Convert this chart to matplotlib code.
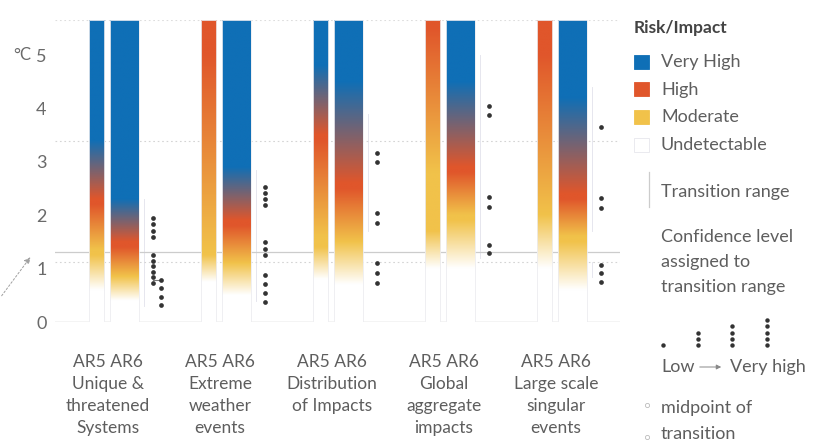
"""Burning-embers chart: AR5 vs AR6 risk levels for five reasons for concern."""

import matplotlib

matplotlib.use("Agg")
import matplotlib.pyplot as plt
import numpy as np
from matplotlib.patches import Rectangle

plt.rcParams["font.family"] = ["Lato", "DejaVu Sans"]

# --- data -------------------------------------------------------------------
groups = [
    "Unique &\nthreatened\nSystems",
    "Extreme\nweather\nevents",
    "Distribution\nof Impacts",
    "Global\naggregate\nimpacts",
    "Large scale\nsingular\nevents",
]
# (start, end) in degC of each transition: undetectable->moderate, moderate->high, high->very high
ar5_transitions = [
    [(0.6, 1.25), (1.35, 2.2), (2.3, 3.4)],
    [(0.75, 1.25), (1.3, 5.0)],
    [(0.8, 1.4), (1.6, 3.4), (3.5, 4.8)],
    [(1.0, 1.7), (2.8, 5.5)],
    [(1.0, 2.0), (2.0, 5.0)],
]
ar6_transitions = [
    [(0.4, 0.85), (0.85, 1.4), (1.5, 2.3)],
    [(0.5, 1.1), (1.1, 1.8), (1.9, 2.9)],
    [(0.7, 1.5), (1.5, 2.5), (2.6, 4.5)],
    [(1.0, 1.9), (2.0, 2.8), (2.9, 4.5)],
    [(0.6, 1.5), (1.6, 2.3), (2.4, 4.2)],
]
# confidence dots: (column, lowest dot, highest dot, number of dots)
confidence_dots = [
    [(0, 1.59, 1.95, 4), (0, 0.74, 1.25, 6), (1, 0.32, 0.79, 4)],
    [(0, 2.19, 2.53, 4), (0, 1.25, 1.50, 3), (0, 0.37, 0.88, 4)],
    [(0, 3.00, 3.16, 2), (0, 1.85, 2.04, 2), (0, 0.73, 1.10, 3)],
    [(0, 3.88, 4.04, 2), (0, 2.15, 2.34, 2), (0, 1.29, 1.44, 2)],
    [(0, 3.65, 3.65, 1), (0, 2.13, 2.32, 2), (0, 0.75, 1.07, 3)],
]
transition_ranges = [
    [(0.3, 2.3)],
    [(0.4, 2.85)],
    [(1.7, 3.9)],
    [(1.2, 5.0)],
    [(1.7, 4.4), (0.85, 1.13)],
]
y_ticks = [0, 1, 2, 3, 4, 5]
current_warming = 1.31
ref_lines = [1.12, 3.39]
y_top = 5.66

level_names = ["Very High", "High", "Moderate", "Undetectable"]
level_colors = ["#ffffff", "#f1c24a", "#e0562b", "#0f6fb6"]  # undetectable -> very high
confidence_legend = [1, 3, 4, 5]

# --- layout -------------------------------------------------------------------
W, H = 837, 444
TEXT = "#5e5e5e"
AR5_SPAN = (0.0, 0.134)
AR6_SPAN = (0.19, 0.446)
DOT_COLS = [0.57, 0.645]
RANGE_X = 0.49


def ember_rgb(transitions, temps):
    level = np.zeros_like(temps)
    for lo, hi in transitions:
        level += np.clip((temps - lo) / (hi - lo), 0, 1)
    cols = np.array([matplotlib.colors.to_rgb(c) for c in level_colors])
    idx = np.clip(np.floor(level).astype(int), 0, len(cols) - 2)
    frac = (level - idx)[:, None]
    return cols[idx] * (1 - frac) + cols[idx + 1] * frac


fig = plt.figure(figsize=(W / 100, H / 100), dpi=100)
ax = fig.add_axes([55 / W, 1 - 322 / H, (620 - 55) / W, (322 - 20) / H])
ax.set_zorder(2)

temps = np.linspace(0, y_top, 500)
for i in range(len(groups)):
    for span, trans in ((AR5_SPAN, ar5_transitions[i]), (AR6_SPAN, ar6_transitions[i])):
        rgb = ember_rgb(trans, temps)[:, None, :]
        ax.imshow(rgb, extent=(i + span[0], i + span[1], 0, y_top), origin="lower",
                  aspect="auto", interpolation="bilinear", zorder=2)
        ax.add_patch(Rectangle((i + span[0], 0), span[1] - span[0], y_top, fill=False,
                               edgecolor="#ececf0", lw=0.6, zorder=2.5))

    for col, lo, hi, n in confidence_dots[i]:
        ys = np.linspace(lo, hi, n) if n > 1 else np.array([lo])
        ax.plot(np.full(n, i + DOT_COLS[col]), ys, "o", color="#333333", ms=3.4,
                mec="none", zorder=4)
    for lo, hi in transition_ranges[i]:
        ax.plot([i + RANGE_X, i + RANGE_X], [lo, hi], color="#e6e6ee", lw=0.7, zorder=1)

# small connector between the two dot columns of the first group
ax.plot([0 + DOT_COLS[0], 0 + DOT_COLS[1]], [0.79, 0.79], color="#777777", lw=0.8, zorder=3)

ax.axhline(current_warming, color="#cccccc", lw=0.9, zorder=1)
for ref in ref_lines:
    ax.axhline(ref, color="#d4d4d4", lw=0.8, ls=(0, (1.5, 2.5)), zorder=1)
ax.axhline(y_top, color="#dddddd", lw=0.8, ls=(0, (1.5, 2.5)), zorder=1)
ax.axhline(0, color="#c8c8c8", lw=1.0, zorder=1)

ax.set_xlim(-(89 - 55) / 112, (620 - 89) / 112)
ax.set_ylim(0, y_top)
ax.set_yticks(y_ticks)
ax.set_yticklabels([str(t) for t in y_ticks], fontsize=13, color="#6a6a6a")
ax.tick_params(axis="y", length=0, pad=6)
ax.set_xticks([])
for s in ax.spines.values():
    s.set_visible(False)
ax.patch.set_alpha(0)

# category labels under each pair of bars
for i, name in enumerate(groups):
    ax.text(i + 0.17, -0.6, "AR5 AR6\n" + name, ha="center", va="top", fontsize=12.5,
            color=TEXT, linespacing=1.45)

# --- overlay in pixel coordinates for annotations and legend --------------------
ov = fig.add_axes([0, 0, 1, 1])
ov.set_xlim(0, W)
ov.set_ylim(H, 0)
ov.axis("off")
ov.set_zorder(3)

ov.text(13, 55, "°C", fontsize=12, color="#6a6a6a", va="center")
ov.annotate("", xy=(32, 255), xytext=(0, 298),
            arrowprops=dict(arrowstyle="-|>", color="#a0a0a0", lw=0.7, ls=(0, (2, 2)),
                            mutation_scale=9))

ov.text(634, 28, "Risk/Impact", fontsize=12.5, fontweight="bold", color="#444444", va="center")
legend_cols = level_colors[::-1]
for k, (name, col) in enumerate(zip(level_names, legend_cols)):
    yc = 62 + k * 27.5
    ov.add_patch(Rectangle((634, yc - 7), 15, 14, facecolor=col,
                           edgecolor="#e6e6ec" if col == "#ffffff" else col, lw=0.6))
    ov.text(661, yc, name, fontsize=13, color=TEXT, va="center")

ov.plot([649, 649], [172, 207], color="#cccccc", lw=0.9)
ov.text(661, 192, "Transition range", fontsize=13, color=TEXT, va="center")
for k, line in enumerate(["Confidence level", "assigned to", "transition range"]):
    ov.text(661, 237 + k * 25, line, fontsize=13, color=TEXT, va="center")

for k, n in enumerate(confidence_legend):
    xs = 663 + k * 34.7
    dot_y = 345 - np.arange(n) * 6.2
    ov.plot(np.full(n, xs), dot_y, "o", color="#333333", ms=3.2, mec="none")
ov.text(661, 367, "Low", fontsize=13, color=TEXT, va="center")
ov.annotate("", xy=(724, 367), xytext=(697, 367),
            arrowprops=dict(arrowstyle="-|>", color="#888888", lw=0.7, mutation_scale=7))
ov.text(730, 367, "Very high", fontsize=13, color=TEXT, va="center")

ov.plot([647], [405], "o", ms=3, mfc="white", mec="#bbbbbb", mew=0.6)
ov.text(661, 408, "midpoint of", fontsize=13, color=TEXT, va="center")
ov.plot([647], [437], "o", ms=3, mfc="white", mec="#bbbbbb", mew=0.6)
ov.text(661, 434, "transition", fontsize=13, color=TEXT, va="center")

fig.savefig("out.png", dpi=100)
